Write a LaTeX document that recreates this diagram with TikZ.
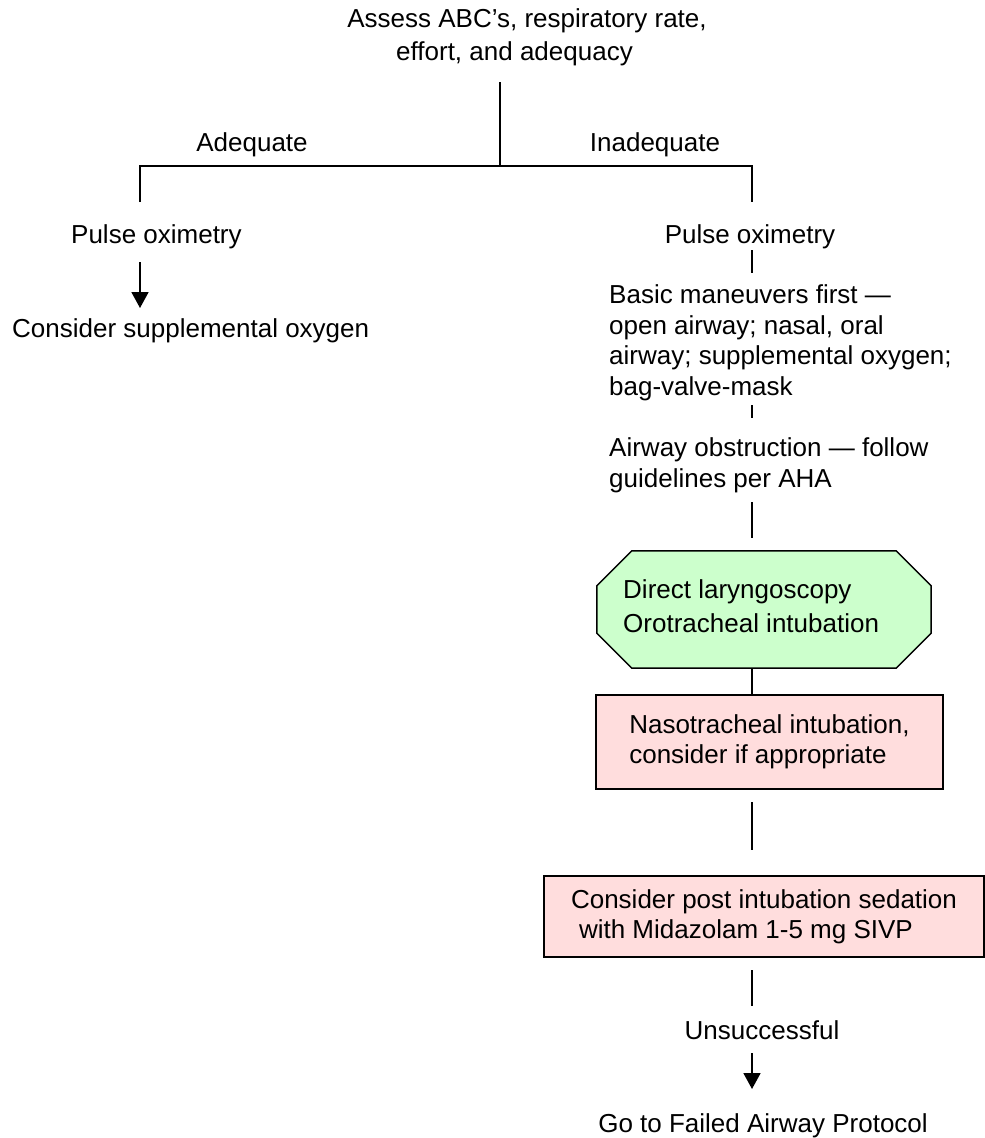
\documentclass[tikz,border=0pt]{standalone}
\usepackage{fontspec}
\setmainfont{Liberation Sans}
\usetikzlibrary{arrows.meta,calc}
\definecolor{okgreen}{RGB}{204,255,204}
\definecolor{warnpink}{RGB}{255,221,221}

\begin{document}
\begin{tikzpicture}[x=1pt,y=-1pt,
  txt/.style={inner sep=0pt, font=\fontsize{26}{30.5}\selectfont},
  link/.style={line width=1.8pt},
  arr/.style={link, -{Triangle[width=17pt,length=16pt]}},
  pinkbox/.style={draw, line width=2pt, fill=warnpink, inner sep=0pt,
    align=left, font=\fontsize{26}{30}\selectfont},
  octline/.style={line width=1.5pt, fill=okgreen}
]
\useasboundingbox (0,0) rectangle (985,1138);

% vertical axis of the right-hand branch
\coordinate (ax) at (752,0);

% header and split (multi-line nodes are placed by their last baseline)
\node[txt, align=center, anchor=base, font=\fontsize{26}{33}\selectfont] (title) at (527,60)
  {Assess ABC’s, respiratory rate,\\effort, and adequacy\hspace*{25pt}};
\node[txt, anchor=base] (adq) at (252,151) {Adequate};
\node[txt, anchor=base] (inadq) at (655,151) {Inadequate};

% left branch
\node[txt, anchor=base west] (lpo) at (71,243) {Pulse oximetry};
\node[txt, anchor=base west] (csup) at (12,337) {Consider supplemental oxygen};

% right branch
\node[txt, anchor=base] (rpo) at (750,243) {Pulse oximetry};
\node[txt, anchor=base west, align=left] (basic) at (609,395)
  {Basic maneuvers first —\\open airway; nasal, oral\\airway; supplemental oxygen;\\bag-valve-mask};
\node[txt, anchor=base west, align=left] (obst) at (609,487)
  {Airway obstruction — follow\\guidelines per AHA};

% octagonal step
\node[minimum width=334pt, minimum height=117pt, inner sep=0pt] (dl) at (764,609.5) {};
\draw[octline]
  ($(dl.north west)+(35,0)$) -- ($(dl.north east)+(-35,0)$) --
  ($(dl.north east)+(0,35)$) -- ($(dl.south east)+(0,-35)$) --
  ($(dl.south east)+(-35,0)$) -- ($(dl.south west)+(35,0)$) --
  ($(dl.south west)+(0,-35)$) -- ($(dl.north west)+(0,35)$) -- cycle;
\node[txt, anchor=base west, align=left, font=\fontsize{26}{33.5}\selectfont] (dltext) at (623,632)
  {Direct laryngoscopy\\Orotracheal intubation};

% boxed steps
\node[pinkbox, minimum width=347pt, minimum height=94pt] (nt) at (769.5,742)
  {Nasotracheal intubation,\\consider if appropriate};
\node[pinkbox, minimum width=440pt, minimum height=81pt] (sed) at (764,916.5)
  {Consider post intubation sedation\\\hspace*{8pt}with Midazolam 1-5 mg SIVP};

\node[txt, anchor=base] (unsucc) at (762,1039) {Unsuccessful};
\node[txt, anchor=base] (failed) at (763,1132) {Go to Failed Airway Protocol};

% connector end points
\coordinate (t0) at (500,82);
\coordinate (tj) at (500,166);
\coordinate (la) at (140,202);
\coordinate (ra) at (752,202);
\coordinate (l1) at (140,262);
\coordinate (l2) at (140,308);
\coordinate (r1) at (752,250);
\coordinate (r2) at (752,273);
\coordinate (r3) at (752,405);
\coordinate (r4) at (752,418);
\coordinate (r5) at (752,502);
\coordinate (r6) at (752,538);
\coordinate (r7) at (752,802);
\coordinate (r8) at (752,850);
\coordinate (r9) at (752,970);
\coordinate (r10) at (752,1006);
\coordinate (r11) at (752,1053);
\coordinate (r12) at (752,1089);

% connectors
\draw[link] (t0) -- (tj);
\draw[link] (la) -- (la |- tj) -- (ra |- tj) -- (ra);
\draw[arr] (l1) -- (l2);
\draw[link] (r1) -- (r2);
\draw[link] (r3) -- (r4);
\draw[link] (r5) -- (r6);
\draw[link] (dl.south -| ax) -- (nt.north -| ax);
\draw[link] (r7) -- (r8);
\draw[link] (r9) -- (r10);
\draw[arr] (r11) -- (r12);
\end{tikzpicture}
\end{document}
